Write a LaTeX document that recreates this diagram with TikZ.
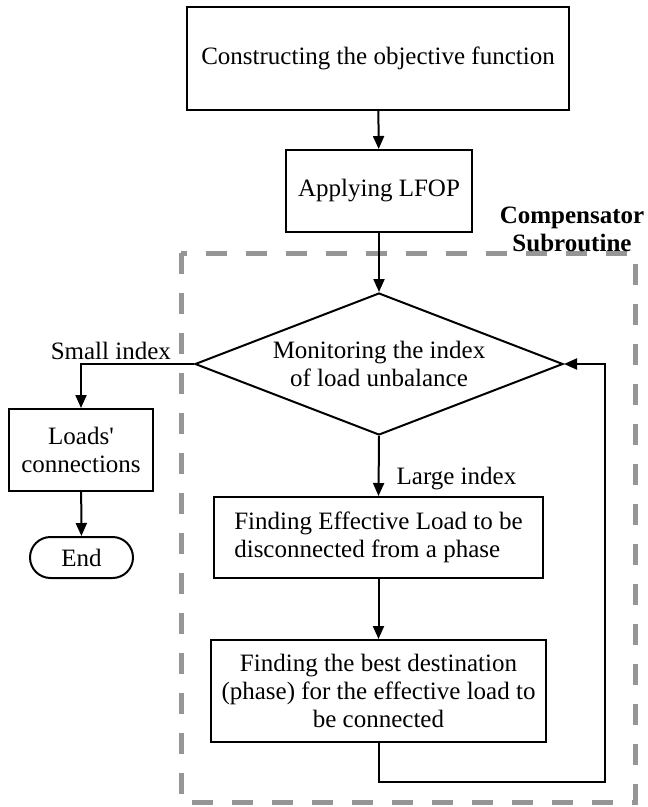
\documentclass[tikz,border=0pt]{standalone}
\usepackage{fontspec}
\setmainfont{Liberation Serif}
\usetikzlibrary{arrows.meta,shapes.geometric,shapes.misc}
\definecolor{subgray}{RGB}{150,150,150}
\tikzset{
  flowbox/.style={draw,line width=2pt,align=center,inner sep=0pt},
  flowline/.style={line width=2pt},
  flowarrow/.style={flowline,-{Triangle[length=13pt,width=11pt]}}
}
\begin{document}
\begin{tikzpicture}[x=1pt,y=-1pt,font=\fontsize{25}{28}\selectfont]
\useasboundingbox (0,0) rectangle (648,807);
\draw[subgray,line width=5pt,dash pattern=on 21pt off 19pt] (181,253) rectangle (635,802);
\node[align=center,font=\fontsize{25}{28}\selectfont\bfseries] (complabel) at (572,229) {Compensator\\Subroutine};
\node[flowbox,minimum width=382pt,minimum height=103pt] (objfun) at (378,58.5) {Constructing the objective function};
\node[flowbox,minimum width=186pt,minimum height=82pt] (lfop) at (379,191) {Applying LFOP};
\node[draw,line width=2pt,diamond,aspect=2.59,inner sep=0pt,align=center,minimum width=368pt,minimum height=142pt] (monitor) at (379,364) {Monitoring the index\\of load unbalance};
\node[flowbox,align=left,minimum width=329pt,minimum height=81pt] (findload) at (378.5,537.5) {Finding Effective Load to be\\disconnected from a phase};
\node[flowbox,minimum width=335pt,minimum height=102pt] (bestdest) at (378.5,691) {Finding the best destination\\(phase) for the effective load to\\be connected};
\node[flowbox,minimum width=144pt,minimum height=82pt] (loads) at (81,450) {Loads\textquotesingle\\connections};
\node[draw,line width=2pt,rounded rectangle,inner sep=0pt,minimum width=103pt,minimum height=41pt] (endnode) at (81.5,557.5) {End};
\coordinate (loopcorner) at (605,782);
\draw[flowarrow] (objfun) -- (lfop);
\draw[flowarrow] (lfop) -- (monitor);
\draw[flowarrow] (monitor.south) -- node[pos=0.71,anchor=west,inner sep=0pt,xshift=17pt] {Large index} (findload.north);
\draw[flowarrow] (monitor.west) -| node[pos=0.368,anchor=south,inner sep=3pt] {Small index} (loads.north);
\draw[flowarrow] (loads) -- (endnode);
\draw[flowarrow] (findload) -- (bestdest);
\draw[flowarrow] (bestdest.south) |- (loopcorner) |- (monitor.east);
\end{tikzpicture}
\end{document}
